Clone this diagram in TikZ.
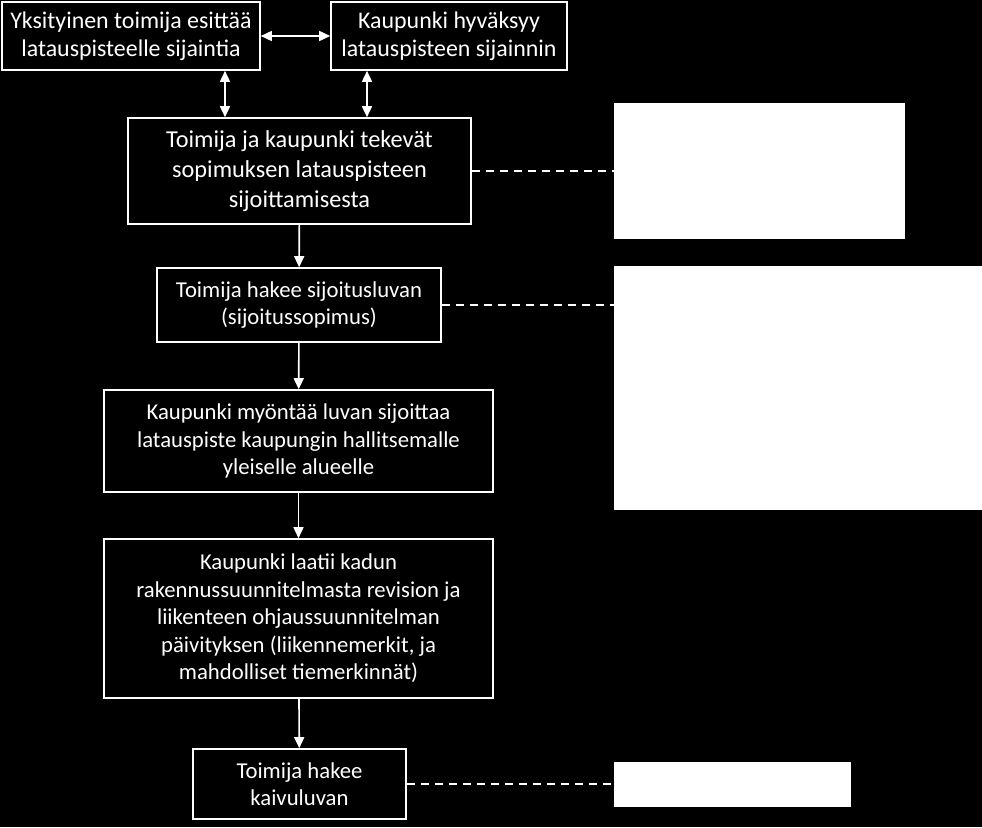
\documentclass[tikz,border=0pt]{standalone}
\usepackage{fontspec}
\setmainfont{Carlito}
\usetikzlibrary{arrows.meta}
\tikzset{
  box/.style={draw=white,line width=1.6pt,text=white,align=center,inner sep=0pt,
    font=\fontsize{22.7}{27.5}\selectfont},
  blank/.style={fill=white,inner sep=0pt},
  link/.style={white,line width=1.6pt},
  >={Triangle[length=11pt,width=10pt]}
}
\begin{document}
\begin{tikzpicture}[x=1pt,y=-1pt]
        \fill[black] (0,0) rectangle (982,827);
        \node[box,minimum width=258,minimum height=68,font=\fontsize{23.9}{28}\selectfont] (yksit) at (131,36) {Yksityinen toimija esittää\\latauspisteelle sijaintia};
        \node[box,minimum width=236,minimum height=68,font=\fontsize{23.9}{28}\selectfont] (hyvak) at (449,36) {Kaupunki hyväksyy\\latauspisteen sijainnin};
        \node[box,minimum width=343,minimum height=106,font=\fontsize{24.3}{30}\selectfont] (sopim) at (299.5,171) {Toimija ja kaupunki tekevät\\sopimuksen latauspisteen\\sijoittamisesta};
        \node[box,minimum width=284,minimum height=74] (haksij) at (299,305) {Toimija hakee sijoitusluvan\\(sijoitussopimus)};
        \node[box,minimum width=389,minimum height=102] (myont) at (298.5,441) {Kaupunki myöntää luvan sijoittaa\\latauspiste kaupungin hallitsemalle\\yleiselle alueelle};
        \node[box,minimum width=389,minimum height=159] (laatii) at (298.5,618.5) {Kaupunki laatii kadun\\rakennussuunnitelmasta revision ja\\liikenteen ohjaussuunnitelman\\päivityksen (liikennemerkit, ja\\mahdolliset tiemerkinnät)};
        \node[box,minimum width=213,minimum height=70] (kaivu) at (299.5,784) {Toimija hakee\\kaivuluvan};
        \node[blank,minimum width=291,minimum height=136] (valk1) at (759.5,171) {};
        \node[blank,minimum width=368,minimum height=244] (valk2) at (798,388) {};
        \node[blank,minimum width=237,minimum height=45] (valk3) at (732.5,784.5) {};
        \coordinate (vas) at (225,0);
        \coordinate (oik) at (367,0);
        \draw[link,<->] (yksit.east) -- (hyvak.west);
        \draw[link,<->] (yksit.south -| vas) -- (sopim.north -| vas);
        \draw[link,<->] (hyvak.south -| oik) -- (sopim.north -| oik);
        \draw[link,->] (sopim) -- (haksij);
        \draw[link,->] (haksij) -- (myont);
        \draw[link,->] (myont) -- (laatii);
        \draw[link,->] (laatii) -- (kaivu);
        \draw[link,dash pattern=on 8pt off 6pt] (sopim.east) -- (valk1.west);
        \draw[link,dash pattern=on 8pt off 6pt] (haksij.east) -- (haksij.east -| valk2.west);
        \draw[link,dash pattern=on 8pt off 6pt] (kaivu.east) -- (kaivu.east -| valk3.west);
\end{tikzpicture}
\end{document}
